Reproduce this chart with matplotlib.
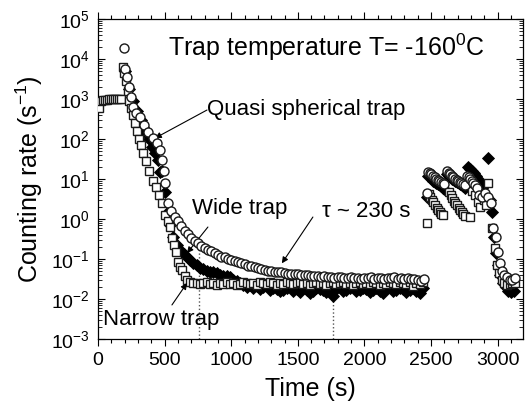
import matplotlib
matplotlib.use("Agg")
import matplotlib.pyplot as plt
from matplotlib.ticker import MultipleLocator, LogLocator, NullFormatter

plt.rcParams['font.family'] = ['Liberation Sans', 'DejaVu Sans']
plt.rcParams['mathtext.fontset'] = 'custom'
plt.rcParams['mathtext.rm'] = 'Liberation Sans'
plt.rcParams['mathtext.it'] = 'Liberation Sans:italic'
plt.rcParams['mathtext.bf'] = 'Liberation Sans:bold'

# Narrow trap (open squares)
t_narrow = [10, 25, 40, 55, 70, 85, 100, 115, 130, 145, 160, 172,
            190, 197, 210, 222, 235, 250, 265, 280, 292, 305, 320, 340, 360, 385,
            410, 435, 460, 480, 503, 525, 540, 555, 570, 585, 600, 615, 630, 650,
            668, 690,
            715, 740, 765, 790, 815, 840, 865, 890, 915, 940, 965, 990, 1015, 1040,
            1065, 1090, 1115, 1140, 1165, 1190, 1215, 1240, 1265, 1290, 1315, 1340,
            1365, 1390, 1415, 1440, 1465, 1490, 1515, 1540, 1565, 1590, 1615, 1640,
            1665, 1690, 1715, 1740, 1765, 1790, 1815, 1840, 1865, 1890, 1915, 1940,
            1965, 1990, 2015, 2040, 2065, 2090, 2115, 2140, 2165, 2190, 2215, 2240,
            2265, 2290, 2315, 2340, 2365, 2390, 2415, 2440,
            2468, 2482, 2494, 2506, 2518, 2530, 2542, 2554, 2566, 2578, 2590,
            2635, 2647, 2659, 2671, 2683, 2695, 2707, 2719, 2731, 2743, 2755,
            2790, 2810, 2830, 2850, 2870, 2895, 2915, 2930,
            2960, 2980, 2995, 3010, 3030, 3050, 3070, 3090, 3110, 3128]
y_narrow = [600, 900, 950, 960, 970, 980, 990, 990, 1000, 1000, 1000, 980,
            6300, 4500, 2800, 1600, 900, 600, 400, 250, 160, 100, 70, 45, 28, 16,
            9, 6.3, 4, 2.5, 1.25, 0.9, 0.63, 0.33, 0.22, 0.15, 0.083, 0.063, 0.052, 0.038,
            0.03, 0.026,
            0.025, 0.025, 0.024, 0.025, 0.026, 0.024, 0.025, 0.023, 0.025, 0.024,
            0.026, 0.024, 0.025, 0.023, 0.024, 0.026, 0.025, 0.024, 0.025, 0.023,
            0.026, 0.025, 0.024, 0.026, 0.025, 0.023, 0.025, 0.024, 0.026, 0.025,
            0.024, 0.025, 0.027, 0.024, 0.025, 0.023, 0.025, 0.026, 0.024, 0.025,
            0.023, 0.025, 0.026, 0.024, 0.025, 0.027, 0.024, 0.025, 0.023, 0.025,
            0.026, 0.024, 0.025, 0.024, 0.026, 0.025, 0.023, 0.025, 0.024, 0.026,
            0.025, 0.024, 0.026, 0.025, 0.024, 0.026, 0.021, 0.025, 0.024, 0.026,
            0.8, 4.2, 3.5, 3.0, 2.6, 2.2, 1.9, 1.7, 1.5, 1.35, 1.25,
            4.7, 4.0, 3.4, 2.9, 2.5, 2.2, 1.9, 1.7, 1.5, 1.35, 1.2,
            1.1, 5.0, 4.0, 2.6, 2.0, 3.0, 2.3, 8.0,
            0.6, 0.19, 0.07, 0.045, 0.03, 0.025, 0.022, 0.024, 0.025, 0.025]

# Wide trap (filled diamonds)
t_wide = [200, 230, 260, 290, 320, 338, 360, 380, 405, 430, 450, 465, 480,
          503, 518, 540, 565, 593, 620, 645, 668, 690, 715, 740, 765, 790, 815,
          840, 865, 893, 915, 940, 965, 990, 1015, 1040, 1065, 1090, 1118, 1140,
          1165, 1190, 1215, 1240, 1265, 1290, 1315,
          1340, 1365, 1390, 1415, 1440, 1465, 1490, 1515, 1540, 1565, 1590, 1615,
          1640, 1665, 1690, 1715, 1740, 1765, 1790, 1815, 1840, 1865, 1890, 1915,
          1940, 1965, 1990, 2015, 2040, 2065, 2090, 2115, 2140, 2165, 2190, 2215,
          2240, 2265, 2290, 2315, 2340, 2365, 2390, 2415, 2440,
          2468, 2480, 2492, 2504, 2516, 2528, 2540, 2552, 2564, 2576, 2588, 2600,
          2622, 2634, 2646, 2658, 2670, 2682, 2694, 2706, 2718, 2730, 2742, 2754,
          2775, 2790, 2805, 2820, 2835, 2850, 2865, 2880, 2925,
          2945, 2960, 2975, 2990, 3005, 3020, 3040, 3060, 3080, 3100, 3120]
y_wide = [5000, 1800, 900, 500, 300, 200, 140, 100, 63, 45, 30, 15, 16,
          4.8, 1.4, 0.7, 0.35, 0.22, 0.16, 0.13, 0.11, 0.095, 0.08, 0.07, 0.059,
          0.055, 0.05, 0.047, 0.046, 0.044, 0.04, 0.038, 0.037, 0.035, 0.03,
          0.028, 0.025, 0.023, 0.02, 0.022, 0.019, 0.021, 0.018, 0.02, 0.022,
          0.017, 0.019,
          0.018, 0.016, 0.017, 0.019, 0.021, 0.016, 0.018, 0.015, 0.019, 0.017,
          0.014, 0.016, 0.019, 0.018, 0.017, 0.015, 0.016, 0.012, 0.018, 0.02,
          0.016, 0.017, 0.019, 0.02, 0.016, 0.017, 0.019, 0.018, 0.015, 0.017,
          0.019, 0.016, 0.014, 0.019, 0.02, 0.016, 0.017, 0.019, 0.018, 0.015,
          0.017, 0.019, 0.016, 0.014, 0.019,
          3.5, 12, 11, 10, 9, 8.5, 8, 7.5, 7, 6.5, 6, 5.5,
          13, 12, 11, 10, 9.5, 9, 8.5, 8, 7.5, 7, 6.5, 6,
          20, 18, 16, 14, 12, 10, 8, 6, 33,
          3.0, 1.5, 0.35, 0.14, 0.07, 0.04, 0.025, 0.02, 0.016, 0.015, 0.016]

# Quasi spherical trap (open circles)
t_quasi = [195, 205, 215, 230, 245, 260, 285, 315, 345, 375, 410, 442, 465,
           480, 492, 503,
           525, 550, 575, 600, 625, 650, 675, 700, 725, 750, 775, 800, 825, 850,
           875, 900, 925, 950, 975, 1000, 1025, 1050, 1075, 1100, 1125, 1150,
           1175, 1200, 1225, 1250, 1275, 1300, 1325, 1350, 1375, 1400, 1425,
           1450, 1475, 1500, 1525, 1550, 1575, 1600, 1625, 1650, 1675, 1700,
           1725, 1750, 1775, 1800, 1825, 1850, 1875, 1900, 1925, 1950, 1975,
           2000, 2025, 2050, 2075, 2100, 2125, 2150, 2175, 2200, 2225, 2250,
           2275, 2300, 2325, 2350, 2375, 2400, 2425, 2450,
           2468, 2478, 2490, 2502, 2514, 2526, 2538, 2550, 2562, 2574, 2586, 2598,
           2620, 2632, 2644, 2656, 2668, 2680, 2692, 2704, 2716, 2728, 2740, 2752,
           2770, 2782, 2794, 2806, 2818, 2830, 2842, 2860, 2880, 2905, 2930, 2950,
           2968, 2985, 3000, 3015, 3030, 3050, 3070, 3090, 3110, 3128]
y_quasi = [19000, 5600, 3500, 2000, 1100, 630, 450, 350, 220, 150, 105, 80, 52,
           30, 16, 8,
           2.5, 1.6, 1.15, 0.9, 0.65, 0.5, 0.42, 0.33, 0.28, 0.25, 0.21, 0.19,
           0.17, 0.155, 0.14, 0.125, 0.115, 0.11, 0.1, 0.095, 0.088, 0.082, 0.078,
           0.073, 0.068, 0.065, 0.062, 0.058, 0.056, 0.054, 0.051, 0.05, 0.048,
           0.047, 0.046, 0.045, 0.043, 0.042, 0.041, 0.041, 0.04, 0.039, 0.04,
           0.038, 0.037, 0.038, 0.036, 0.037, 0.035, 0.036, 0.034, 0.035, 0.036,
           0.033, 0.034, 0.035, 0.033, 0.034, 0.032, 0.034, 0.033, 0.035, 0.032,
           0.034, 0.033, 0.031, 0.034, 0.033, 0.035, 0.032, 0.034, 0.031, 0.033,
           0.032, 0.031, 0.03, 0.029, 0.032,
           4.5, 15, 14, 13, 12, 11, 10, 9.5, 9, 8.5, 8, 7.5,
           16, 14, 13, 12, 11, 10, 9.5, 9, 8.5, 8, 7.5, 7,
           12, 11, 10, 9, 8, 7, 6, 4, 3.5, 4.5, 3.5, 2.5,
           0.6, 0.35, 0.15, 0.08, 0.05, 0.04, 0.035, 0.03, 0.03, 0.033]

fig = plt.figure(figsize=(5.28, 4.15), dpi=100)
ax = fig.add_axes([98 / 528, 1 - 339 / 415, 425 / 528, 320 / 415])

# dotted guides for the decay time
ax.plot([758, 758], [1e-3, 0.25], ls=':', color='#555555', lw=1, zorder=1)
ax.plot([1763, 1763], [1e-3, 0.035], ls=':', color='#555555', lw=1, zorder=1)

ax.plot(t_wide, y_wide, ls='none', marker='D', ms=6, mfc='black', mec='black',
        mew=0.6, zorder=2)
ax.plot(t_narrow, y_narrow, ls='none', marker='s', ms=6, mfc='white', mec='#1a1a1a',
        mew=1.0, zorder=3)
ax.plot(t_quasi, y_quasi, ls='none', marker='o', ms=6.5, mfc='white', mec='#1a1a1a',
        mew=1.0, zorder=4)

ax.set_yscale('log')
ax.set_xlim(0, 3190)
ax.set_ylim(1e-3, 1e5)
ax.xaxis.set_major_locator(MultipleLocator(500))
ax.xaxis.set_minor_locator(MultipleLocator(100))
ax.yaxis.set_major_locator(LogLocator(base=10, numticks=20))
ax.yaxis.set_minor_locator(LogLocator(base=10, subs=range(2, 10), numticks=20))
ax.yaxis.set_minor_formatter(NullFormatter())

ax.tick_params(axis='x', which='both', direction='out', top=True, labelsize=14, pad=4)
ax.tick_params(axis='x', which='major', length=5, width=0.8)
ax.tick_params(axis='x', which='minor', length=3, width=0.8)
ax.tick_params(axis='y', which='both', direction='in', right=True, labelsize=14, pad=6)
ax.tick_params(axis='y', which='major', length=5, width=0.8)
ax.tick_params(axis='y', which='minor', length=3, width=0.6)
for s in ax.spines.values():
    s.set_linewidth(0.9)

ax.set_xlabel('Time (s)', fontsize=18, labelpad=6)
ax.set_ylabel('Counting rate (s$^{-1}$)', fontsize=18, labelpad=4)

ax.text(525, 2e4, 'Trap temperature T= -160$^{0}$C', fontsize=18, va='center', ha='left')
ax.text(818, 560, 'Quasi spherical trap', fontsize=16, va='center', ha='left')
ax.text(705, 1.78, 'Wide trap', fontsize=16, va='center', ha='left')
ax.text(38, 0.003, 'Narrow trap', fontsize=16, va='center', ha='left')
ax.text(1680, 1.5, 'τ ~ 230 s', fontsize=16, va='center', ha='left')

arrow = dict(arrowstyle='-|>', lw=0.8, color='black', mutation_scale=9, shrinkA=0, shrinkB=0)
ax.annotate('', xy=(428, 105), xytext=(818, 530), arrowprops=arrow)
ax.annotate('', xy=(668, 0.14), xytext=(825, 0.63), arrowprops=arrow)
ax.annotate('', xy=(668, 0.025), xytext=(555, 0.0071), arrowprops=arrow)
ax.annotate('', xy=(1380, 0.078), xytext=(1613, 1.12), arrowprops=arrow)

fig.savefig('out.png', dpi=100)
